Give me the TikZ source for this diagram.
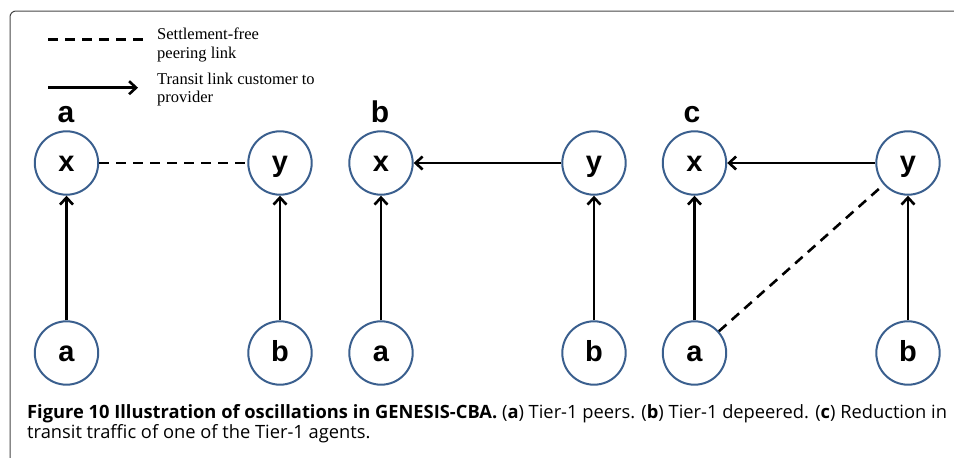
\documentclass[tikz,border=0pt]{standalone}
\usepackage{fontspec}
\setmainfont{Liberation Serif}
\newfontfamily\nodefont{Liberation Sans}
\newfontfamily\capfont{Open Sans}
\usetikzlibrary{arrows.meta}
\definecolor{circblue}{RGB}{58,95,142}
\definecolor{framegray}{RGB}{70,70,70}
\tikzset{
  agent/.style={circle, draw=circblue, line width=2pt, minimum size=63.4pt, inner sep=0pt,
    font=\nodefont\bfseries\fontsize{29}{29}\selectfont, text height=17pt, text depth=0pt},
  panel/.style={anchor=base, inner sep=0pt, font=\nodefont\bfseries\fontsize{30}{30}\selectfont},
  transit/.style={line width=2.8pt, -{Straight Barb[length=7pt,width=13pt,line width=2.6pt]}},
  peering/.style={line width=2.6pt, dash pattern=on 10pt off 7pt},
  legendtxt/.style={anchor=base west, inner sep=0pt, font=\fontsize{16.5}{19}\selectfont, align=left},
  captxt/.style={anchor=base west, inner sep=0pt, font=\capfont\fontsize{18.3}{20}\selectfont}
}
\begin{document}
\begin{tikzpicture}[x=1pt,y=-1pt]
\useasboundingbox (0,0) rectangle (954,458);
% frame
\draw[framegray, line width=1pt, rounded corners=6pt] (10,470) -- (10,11) -- (970,11);
% legend
\coordinate (l1a) at (48,39.3);
\coordinate (l1b) at (143,39.3);
\coordinate (l2a) at (48,87.7);
\coordinate (l2b) at (138,87.7);
\draw[peering] (l1a) -- (l1b);
\draw[transit] (l2a) -- (l2b);
\node[legendtxt] (lt1) at (157,39.3) {Settlement-free};
\node[legendtxt] (lt2) at (157,58.3) {peering link};
\node[legendtxt] (lt3) at (157,84) {Transit link customer to};
\node[legendtxt] (lt4) at (157,102.7) {provider};
% panel labels
\node[panel] (pa) at (66,122) {a};
\node[panel] (pb) at (380,122) {b};
\node[panel] (pc) at (692,122) {c};
% panel a
\node[agent] (ax) at (66.5,163) {x};
\node[agent] (ay) at (280,163) {y};
\node[agent] (aa) at (66.5,353) {a};
\node[agent] (ab) at (280,353) {b};
\draw[peering] (ax) -- (ay);
\draw[transit] (aa) -- (ax);
\draw[transit] (ab) -- (ay);
% panel b
\node[agent] (bx) at (381,163) {x};
\node[agent] (by) at (594,163) {y};
\node[agent] (ba) at (381,353) {a};
\node[agent] (bb) at (594,353) {b};
\draw[transit] (by) -- (bx);
\draw[transit] (ba) -- (bx);
\draw[transit] (bb) -- (by);
% panel c
\node[agent] (cx) at (694.5,163) {x};
\node[agent] (cy) at (908,163) {y};
\node[agent] (ca) at (694.5,353) {a};
\node[agent] (cb) at (908,353) {b};
\draw[transit] (cy) -- (cx);
\draw[transit] (ca) -- (cx);
\draw[transit] (cb) -- (cy);
\draw[peering] (ca) -- (cy);
% caption
\node[captxt] (cap1) at (27,418) {\textbf{Figure 10 Illustration of oscillations in GENESIS-CBA.} (\textbf{a}) Tier-1 peers. (\textbf{b}) Tier-1 depeered. (\textbf{c}) Reduction in};
\node[captxt] (cap2) at (27,438.5) {transit traffic of one of the Tier-1 agents.};
\end{tikzpicture}
\end{document}
